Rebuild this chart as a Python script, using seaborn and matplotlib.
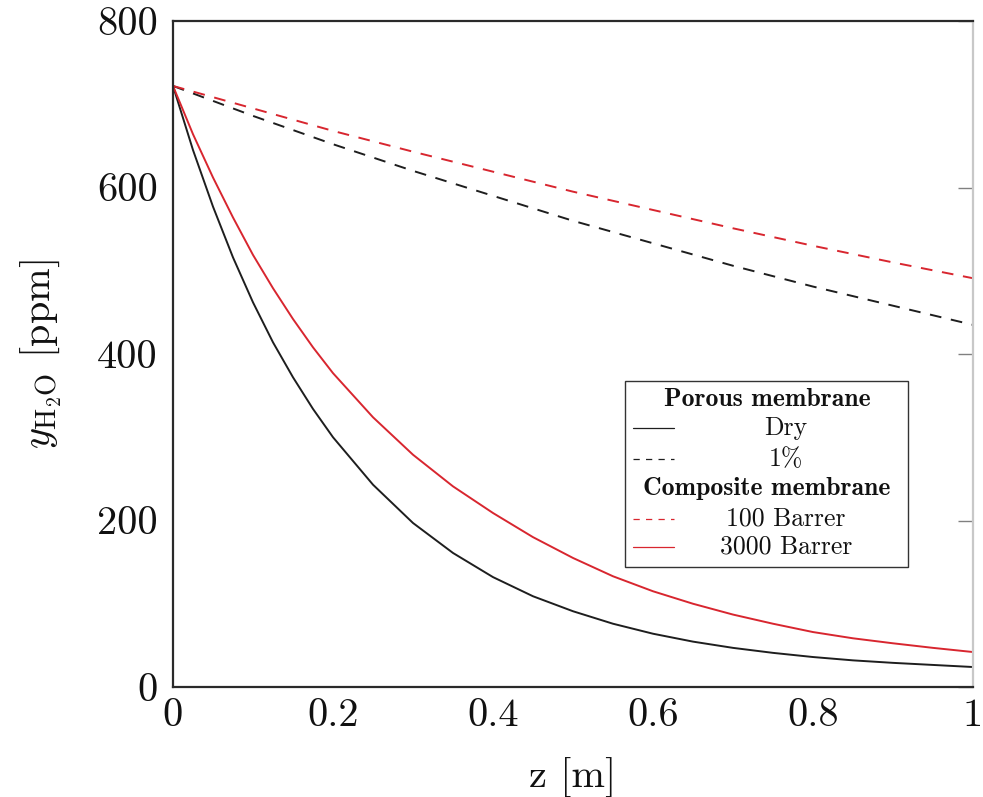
import numpy as np
import pandas as pd
import seaborn as sns
import matplotlib
matplotlib.use("Agg")
import matplotlib.pyplot as plt
from matplotlib.lines import Line2D
from matplotlib.patches import Rectangle

# ---- data ----
z_curve = [0.0, 0.025, 0.05, 0.075, 0.1, 0.125, 0.15, 0.175, 0.2, 0.25,
           0.3, 0.35, 0.4, 0.45, 0.5, 0.55, 0.6, 0.65, 0.7, 0.75, 0.8,
           0.85, 0.9, 0.95, 1.0]
dry_porous = [722, 645, 577, 516, 462, 414, 372, 334, 300, 243,
              197, 161, 132, 109, 91, 76, 64, 54.5, 47, 41, 36,
              32, 29, 26.5, 24]
barrer_3000 = [722, 664, 612, 564, 519, 479, 442, 408, 377, 324,
               279, 241, 209, 180, 155, 133, 115, 100, 87, 76, 66,
               58.5, 52.5, 47, 42]

z_dash = [0.0, 0.1, 0.2, 0.3, 0.4, 0.5, 0.6, 0.7, 0.8, 0.9, 1.0]
wet_porous = [722, 686, 652, 620, 590, 560, 533, 506, 481, 458, 435]
barrer_100 = [722, 695, 668, 643, 619, 595, 573, 551, 530, 510, 491]

x_ticks = [0, 0.2, 0.4, 0.6, 0.8, 1.0]
x_tick_labels = ["0", "0.2", "0.4", "0.6", "0.8", "1"]
y_ticks = [0, 200, 400, 600, 800]
y_tick_labels = ["0", "200", "400", "600", "800"]

series_names = ["Dry", "1%", "100 Barrer", "3000 Barrer"]

df = pd.concat([
    pd.DataFrame({"z": z_curve, "y": dry_porous, "series": "Dry"}),
    pd.DataFrame({"z": z_dash, "y": wet_porous, "series": "1%"}),
    pd.DataFrame({"z": z_dash, "y": barrer_100, "series": "100 Barrer"}),
    pd.DataFrame({"z": z_curve, "y": barrer_3000, "series": "3000 Barrer"}),
], ignore_index=True)

# ---- style ----
sns.set_theme(style="white")
plt.rcParams["font.family"] = ["cmr10", "DejaVu Serif"]
plt.rcParams["mathtext.fontset"] = "cm"
plt.rcParams["axes.unicode_minus"] = False
plt.rcParams["axes.formatter.use_mathtext"] = True

RED = "#d8262f"
BLACK = "#1e1e1e"
palette = {"Dry": BLACK, "1%": BLACK, "100 Barrer": RED, "3000 Barrer": RED}
dashes = {"Dry": "", "1%": (6, 5), "100 Barrer": (6, 5), "3000 Barrer": ""}

fig = plt.figure(figsize=(9.83, 7.97), dpi=100)
ax = fig.add_axes([173 / 983, 1 - 687 / 797, 800 / 983, 666 / 797])

sns.lineplot(data=df, x="z", y="y", hue="series", style="series",
             hue_order=series_names, style_order=series_names,
             palette=palette, dashes=dashes, linewidth=1.4,
             legend=False, ax=ax, sort=False)

ax.set_xlim(0, 1)
ax.set_ylim(0, 800)
ax.set_xticks(x_ticks)
ax.set_xticklabels(x_tick_labels)
ax.set_yticks(y_ticks)
ax.set_yticklabels(y_tick_labels)
ax.tick_params(axis="both", which="major", direction="in", length=11,
               width=1.0, color="#808080", labelsize=29, labelcolor="#111111",
               top=False, right=True)
ax.tick_params(axis="x", pad=8)
ax.tick_params(axis="y", pad=11)

for s in ax.spines.values():
    s.set_color("#2a2a2a")
    s.set_linewidth(1.6)
ax.spines["right"].set_color("#c8c8c8")

ax.set_xlabel("z [m]", fontsize=29, labelpad=17, color="#111111")
ax.set_ylabel(r"$y_{\mathrm{H}_2\mathrm{O}}$ [ppm]", fontsize=29,
              labelpad=24, color="#111111")
ax.grid(False)

# ---- custom legend (pixel positions converted to axes fraction) ----
def ax_x(px):
    return (px - 173) / 800

def ax_y(py):
    return (687 - py) / 666

box = Rectangle((ax_x(625), ax_y(567)), ax_x(908) - ax_x(625),
                ax_y(381) - ax_y(567), transform=ax.transAxes,
                facecolor="white", edgecolor="#333333", linewidth=1.0,
                zorder=5)
ax.add_patch(box)

rows = [
    ("Porous membrane", None, None, 399),
    ("Dry", BLACK, "-", 428),
    ("1%", BLACK, (0, (5, 5)), 459),
    ("Composite membrane", None, None, 489),
    ("100 Barrer", RED, (0, (5, 5)), 519),
    ("3000 Barrer", RED, "-", 547),
]
for label, col, ls, py in rows:
    if col is None:
        ax.text(ax_x(767), ax_y(py), label, transform=ax.transAxes,
                ha="center", va="center", fontsize=18.5, fontfamily="cmb10",
                color="#111111", zorder=6)
    else:
        ax.add_line(Line2D([ax_x(633), ax_x(674)], [ax_y(py), ax_y(py)],
                           transform=ax.transAxes, color=col, linestyle=ls,
                           linewidth=0.9, zorder=6))
        ax.text(ax_x(786), ax_y(py), label, transform=ax.transAxes,
                ha="center", va="center", fontsize=18.5, color="#111111",
                zorder=6)

fig.savefig("out.png", dpi=100)
